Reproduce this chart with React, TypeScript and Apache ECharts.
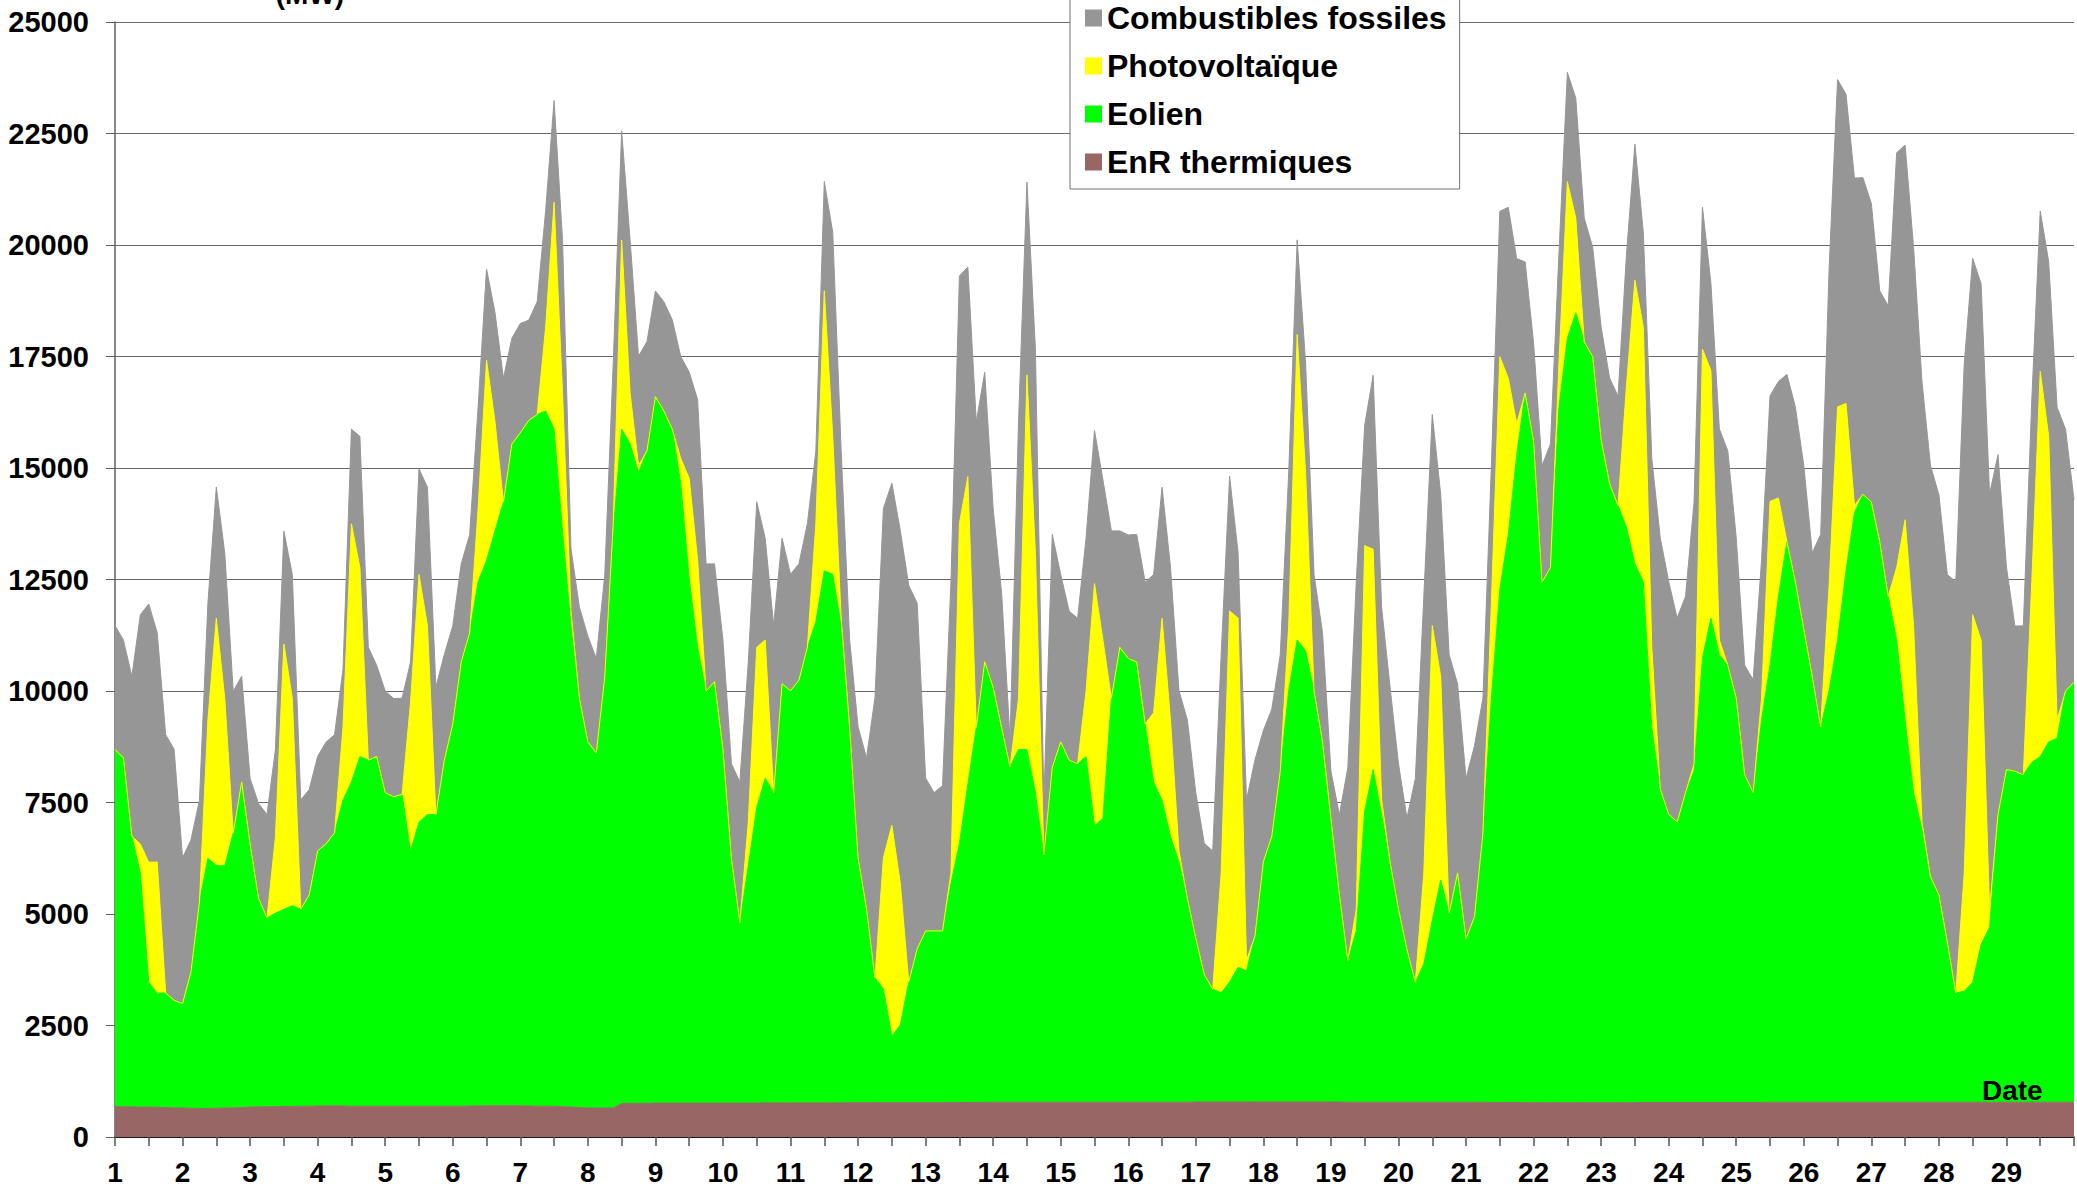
import React, { useEffect, useRef } from 'react';
import * as echarts from 'echarts';

// 3-hourly values (MW), 1 February 00h .. 30 February 00h (29 days x 8 + 1 point)
const enrThermiques = [
  680, 680, 675, 670, 670, 665, 660, 655,
  650, 645, 640, 640, 645, 650, 655, 660,
  670, 675, 680, 680, 685, 685, 690, 690,
  695, 695, 700, 695, 690, 690, 690, 690,
  690, 690, 690, 690, 690, 690, 690, 690,
  690, 690, 695, 695, 700, 700, 700, 700,
  700, 695, 690, 690, 690, 680, 670, 660,
  650, 650, 650, 650, 750, 755, 755, 755,
  760, 760, 760, 760, 760, 760, 760, 760,
  760, 760, 760, 760, 760, 765, 765, 765,
  765, 765, 765, 765, 765, 765, 765, 770,
  770, 770, 770, 770, 770, 770, 770, 770,
  770, 770, 770, 775, 775, 775, 775, 775,
  780, 780, 780, 780, 780, 780, 780, 780,
  780, 780, 780, 780, 780, 780, 780, 780,
  780, 780, 780, 780, 780, 780, 780, 780,
  785, 785, 785, 785, 785, 785, 785, 785,
  785, 785, 785, 785, 785, 785, 785, 785,
  785, 785, 780, 780, 780, 780, 780, 780,
  780, 780, 780, 780, 780, 780, 780, 780,
  780, 780, 780, 775, 775, 775, 775, 770,
  770, 770, 770, 770, 770, 770, 770, 770,
  770, 770, 770, 770, 770, 775, 775, 775,
  775, 775, 775, 775, 775, 775, 775, 775,
  775, 775, 775, 775, 780, 780, 780, 780,
  780, 780, 780, 780, 780, 780, 780, 780,
  780, 780, 780, 780, 780, 780, 780, 780,
  780, 780, 780, 780, 780, 780, 780, 780,
  780, 780, 780, 780, 780, 780, 780, 780, 780,
];

const eolien = [
  8010, 7820, 6070, 5250, 2800, 2560, 2570, 2410,
  2340, 3060, 4630, 5610, 5440, 5430, 6160, 7300,
  5900, 4680, 4230, 4340, 4420, 4500, 4420, 4740,
  5720, 5880, 6120, 6860, 7270, 7840, 7760, 7840,
  7030, 6940, 6990, 5720, 6370, 6540, 6540, 7760,
  8570, 9960, 10610, 11750, 12230, 12890, 13540, 14840,
  15090, 15370, 15510, 15590, 15180, 12910, 10800, 9180,
  8210, 7960, 9670, 12940, 15120, 14790, 14140, 14630,
  15840, 15520, 15110, 13890, 11770, 10220, 9240, 9450,
  7930, 5490, 4050, 5320, 6630, 7280, 6960, 9400,
  9240, 9480, 10220, 10790, 11930, 11850, 10710, 8420,
  5490, 4350, 2800, 2550, 1490, 1740, 2710, 3450,
  3850, 3850, 3850, 4910, 5800, 7130, 8410, 9880,
  9300, 8400, 7520, 7910, 7910, 6940, 5550, 7510,
  8080, 7670, 7590, 7750, 6200, 6360, 9060, 10200,
  9950, 9870, 8480, 7180, 6770, 5960, 5390, 4570,
  3670, 2860, 2530, 2450, 2690, 3020, 2940, 3720,
  5390, 5960, 7420, 9220, 10360, 10120, 9220, 8080,
  6360, 4650, 3180, 3840, 6530, 7460, 6450, 5390,
  4330, 3430, 2690, 3100, 4080, 4980, 4240, 5140,
  3670, 4160, 6040, 9060, 11500, 12730, 14520, 15910,
  14830, 11670, 12000, 15590, 17140, 17710, 17060, 16730,
  14860, 13880, 13390, 12900, 12080, 11670, 8410, 7030,
  6460, 6290, 6950, 7430, 9960, 10860, 10040, 9800,
  9070, 7350, 6950, 8580, 9800, 11350, 12570, 11670,
  10610, 9550, 8410, 9230, 10370, 11920, 13220, 13630,
  13460, 12560, 11340, 10360, 8570, 6940, 6120, 5060,
  4650, 3590, 2450, 2490, 2690, 3540, 3920, 6450,
  7460, 7420, 7340, 7620, 7750, 8080, 8160, 9220, 9420,
];

const photovoltaique = [
  0, 0, 0, 650, 2690, 2940, 0, 0,
  0, 0, 0, 3100, 5550, 3750, 0, 0,
  0, 0, 0, 1710, 5950, 4650, 0, 0,
  0, 0, 0, 1630, 5790, 4240, 0, 0,
  0, 0, 0, 3340, 5550, 4240, 0, 0,
  0, 0, 0, 1630, 4490, 2450, 0, 0,
  0, 0, 0, 1880, 5090, 3100, 330, 0,
  0, 0, 0, 160, 4240, 1140, 160, 0,
  0, 0, 0, 570, 2240, 1960, 0, 0,
  0, 0, 0, 980, 3590, 3100, 0, 0,
  0, 0, 0, 2200, 6280, 3100, 160, 0,
  0, 0, 0, 2940, 4730, 3180, 0, 0,
  0, 0, 0, 240, 7180, 6900, 0, 0,
  0, 0, 0, 1140, 8400, 5380, 0, 0,
  0, 0, 0, 1470, 5430, 4000, 0, 0,
  0, 0, 0, 1550, 4080, 2610, 250, 0,
  0, 0, 0, 2690, 8320, 7830, 240, 0,
  0, 0, 0, 1470, 6850, 4000, 0, 0,
  0, 0, 0, 490, 5950, 4940, 330, 0,
  0, 0, 0, 2040, 6610, 4570, 0, 0,
  0, 0, 0, 2120, 5220, 3510, 700, 0,
  0, 0, 0, 980, 3510, 2120, 0, 0,
  0, 0, 0, 3180, 6360, 5710, 1790, 0,
  0, 0, 0, 160, 6930, 5550, 330, 0,
  0, 0, 0, 490, 3670, 2200, 0, 0,
  0, 0, 0, 2370, 5220, 3750, 160, 0,
  0, 0, 0, 1630, 4490, 3750, 160, 0,
  0, 0, 0, 2650, 8240, 6820, 410, 0,
  0, 0, 0, 4040, 8640, 6850, 410, 0, 0,
];

const combustiblesFossiles = [
  2780, 2640, 3580, 5140, 5790, 5140, 5790, 5630,
  3270, 2960, 2280, 2610, 2940, 3260, 3180, 2370,
  1470, 2120, 2320, 1960, 2530, 2770, 2450, 2360,
  2120, 2280, 2200, 1300, 2120, 2940, 2530, 2040,
  2280, 2200, 2160, 900, 2370, 3100, 2860, 2370,
  2200, 2200, 2200, 2280, 2040, 2450, 2770, 2370,
  2450, 2250, 2530, 2610, 2280, 3430, 1390, 2040,
  2370, 2120, 2280, 3590, 2450, 3430, 2450, 2450,
  2370, 2450, 2450, 2280, 2380, 3590, 2850, 2640,
  2450, 2120, 3150, 3590, 3260, 2280, 3750, 3260,
  2610, 2610, 2770, 1630, 2450, 4570, 3750, 1960,
  2940, 3380, 6280, 7830, 7670, 7910, 8890, 7750,
  3430, 3100, 3260, 6520, 5550, 4700, 6850, 6490,
  4000, 3020, 600, 6200, 4320, 4570, 1220, 5220,
  3750, 3340, 3260, 3430, 3430, 3590, 3750, 2610,
  2770, 2860, 3180, 3100, 2940, 3430, 3590, 4000,
  3260, 2940, 3100, 4890, 3020, 1470, 3590, 3950,
  2940, 2850, 2610, 3430, 2120, 2450, 2610, 2450,
  1060, 1790, 4320, 7340, 2700, 3900, 4320, 3920,
  3260, 2940, 4570, 6200, 4730, 4080, 5790, 4240,
  3590, 3830, 3020, 3100, 3260, 3830, 3700, 2940,
  2200, 2610, 2770, 2450, 2450, 2690, 2770, 2450,
  2530, 2370, 2450, 2940, 3050, 2120, 4240, 5630,
  5220, 4570, 4400, 5870, 3180, 1960, 4730, 4810,
  3590, 2450, 2530, 3100, 2370, 2610, 3750, 3920,
  3670, 2770, 4320, 7100, 7340, 6930, 7340, 7100,
  6690, 5630, 6520, 9300, 8400, 8480, 9870, 9220,
  8970, 8240, 9220, 11420, 7990, 7990, 9300, 8070,
  4540, 3260, 3340, 4080, 3590, 3920, 7010, 5870, 4090,
];

const dayLabels = [
  '1', '2', '3', '4', '5', '6', '7', '8', '9', '10', '11', '12', '13', '14', '15',
  '16', '17', '18', '19', '20', '21', '22', '23', '24', '25', '26', '27', '28', '29',
];
const stepHours = 3;
const yTicks = { min: 0, max: 25000, interval: 2500 };

const FONT = "'Liberation Sans', Arial, sans-serif";
const COLORS = {
  fossiles: '#969696',
  pv: '#FFFF00',
  eolien: '#00FF00',
  thermiques: '#996666',
};

export default function App() {
  const ref = useRef<HTMLDivElement>(null);

  useEffect(() => {
    if (!ref.current) return;
    const chart = echarts.init(ref.current, undefined, { renderer: 'svg' });
    const hourCats = eolien.map((_, i) => String(i * stepHours));

    const mk = (name: string, data: number[], color: string) => ({
      name,
      type: 'line',
      stack: 'total',
      data,
      symbol: 'none',
      showSymbol: false,
      silent: true,
      lineStyle: { width: 1, color },
      itemStyle: { color },
      areaStyle: { color, opacity: 1 },
      emphasis: { disabled: true },
    });

    chart.setOption({
      animation: false,
      backgroundColor: '#ffffff',
      textStyle: { fontFamily: FONT },
      grid: { left: 115, right: 2, top: 22, bottom: 55 },
      legend: {
        data: ['Combustibles fossiles', 'Photovoltaïque', 'Eolien', 'EnR thermiques'],
        orient: 'vertical',
        left: 1070,
        top: -9,
        padding: [11, 13, 11, 15],
        itemGap: 16,
        itemWidth: 17,
        itemHeight: 17,
        icon: 'rect',
        backgroundColor: '#ffffff',
        borderColor: '#707070',
        borderWidth: 1,
        selectedMode: false,
        z: 10,
        textStyle: {
          fontFamily: FONT,
          fontWeight: 'bold',
          fontSize: 32,
          lineHeight: 32,
          color: '#000000',
        },
      },
      xAxis: {
        type: 'category',
        data: hourCats,
        boundaryGap: false,
        axisLine: { show: true, lineStyle: { color: '#000000', width: 1.5 } },
        axisTick: {
          show: true,
          length: 9,
          interval: (i: number) => i % 4 === 0,
          lineStyle: { color: '#555555', width: 1.5 },
        },
        axisLabel: {
          interval: (i: number) => i % 8 === 0,
          margin: 21,
          fontFamily: FONT,
          fontWeight: 'bold',
          fontSize: 28,
          color: '#000000',
          formatter: (v: string) => {
            const h = Number(v);
            const d = h / 24;
            return h % 24 === 0 && d < dayLabels.length ? dayLabels[d] : '';
          },
        },
        splitLine: { show: false },
      },
      yAxis: {
        type: 'value',
        min: yTicks.min,
        max: yTicks.max,
        interval: yTicks.interval,
        axisLine: { show: true, lineStyle: { color: '#606060', width: 1.5 } },
        axisTick: { show: true, length: 9, lineStyle: { color: '#606060' } },
        axisLabel: {
          margin: 26,
          fontFamily: FONT,
          fontWeight: 'bold',
          fontSize: 29,
          color: '#000000',
          formatter: (v: number) => String(v),
        },
        splitLine: { show: true, lineStyle: { color: '#6a6a6a', width: 1 } },
      },
      graphic: [
        {
          type: 'text',
          x: 310,
          y: -6,
          z: 20,
          style: {
            text: '(MW)',
            font: `bold 28px ${FONT}`,
            fill: '#000000',
            align: 'center',
            verticalAlign: 'middle',
          },
        },
        {
          type: 'text',
          x: 1982,
          y: 1090,
          z: 20,
          style: {
            text: 'Date',
            font: `bold 28px ${FONT}`,
            fill: '#000000',
            align: 'left',
            verticalAlign: 'middle',
          },
        },
      ],
      series: [
        mk('EnR thermiques', enrThermiques, COLORS.thermiques),
        mk('Eolien', eolien, COLORS.eolien),
        mk('Photovoltaïque', photovoltaique, COLORS.pv),
        mk('Combustibles fossiles', combustiblesFossiles, COLORS.fossiles),
      ],
    });

    return () => chart.dispose();
  }, []);

  return (
    <div
      ref={ref}
      style={{ position: 'absolute', left: 0, top: 0, width: 2077, height: 1192 }}
    />
  );
}
